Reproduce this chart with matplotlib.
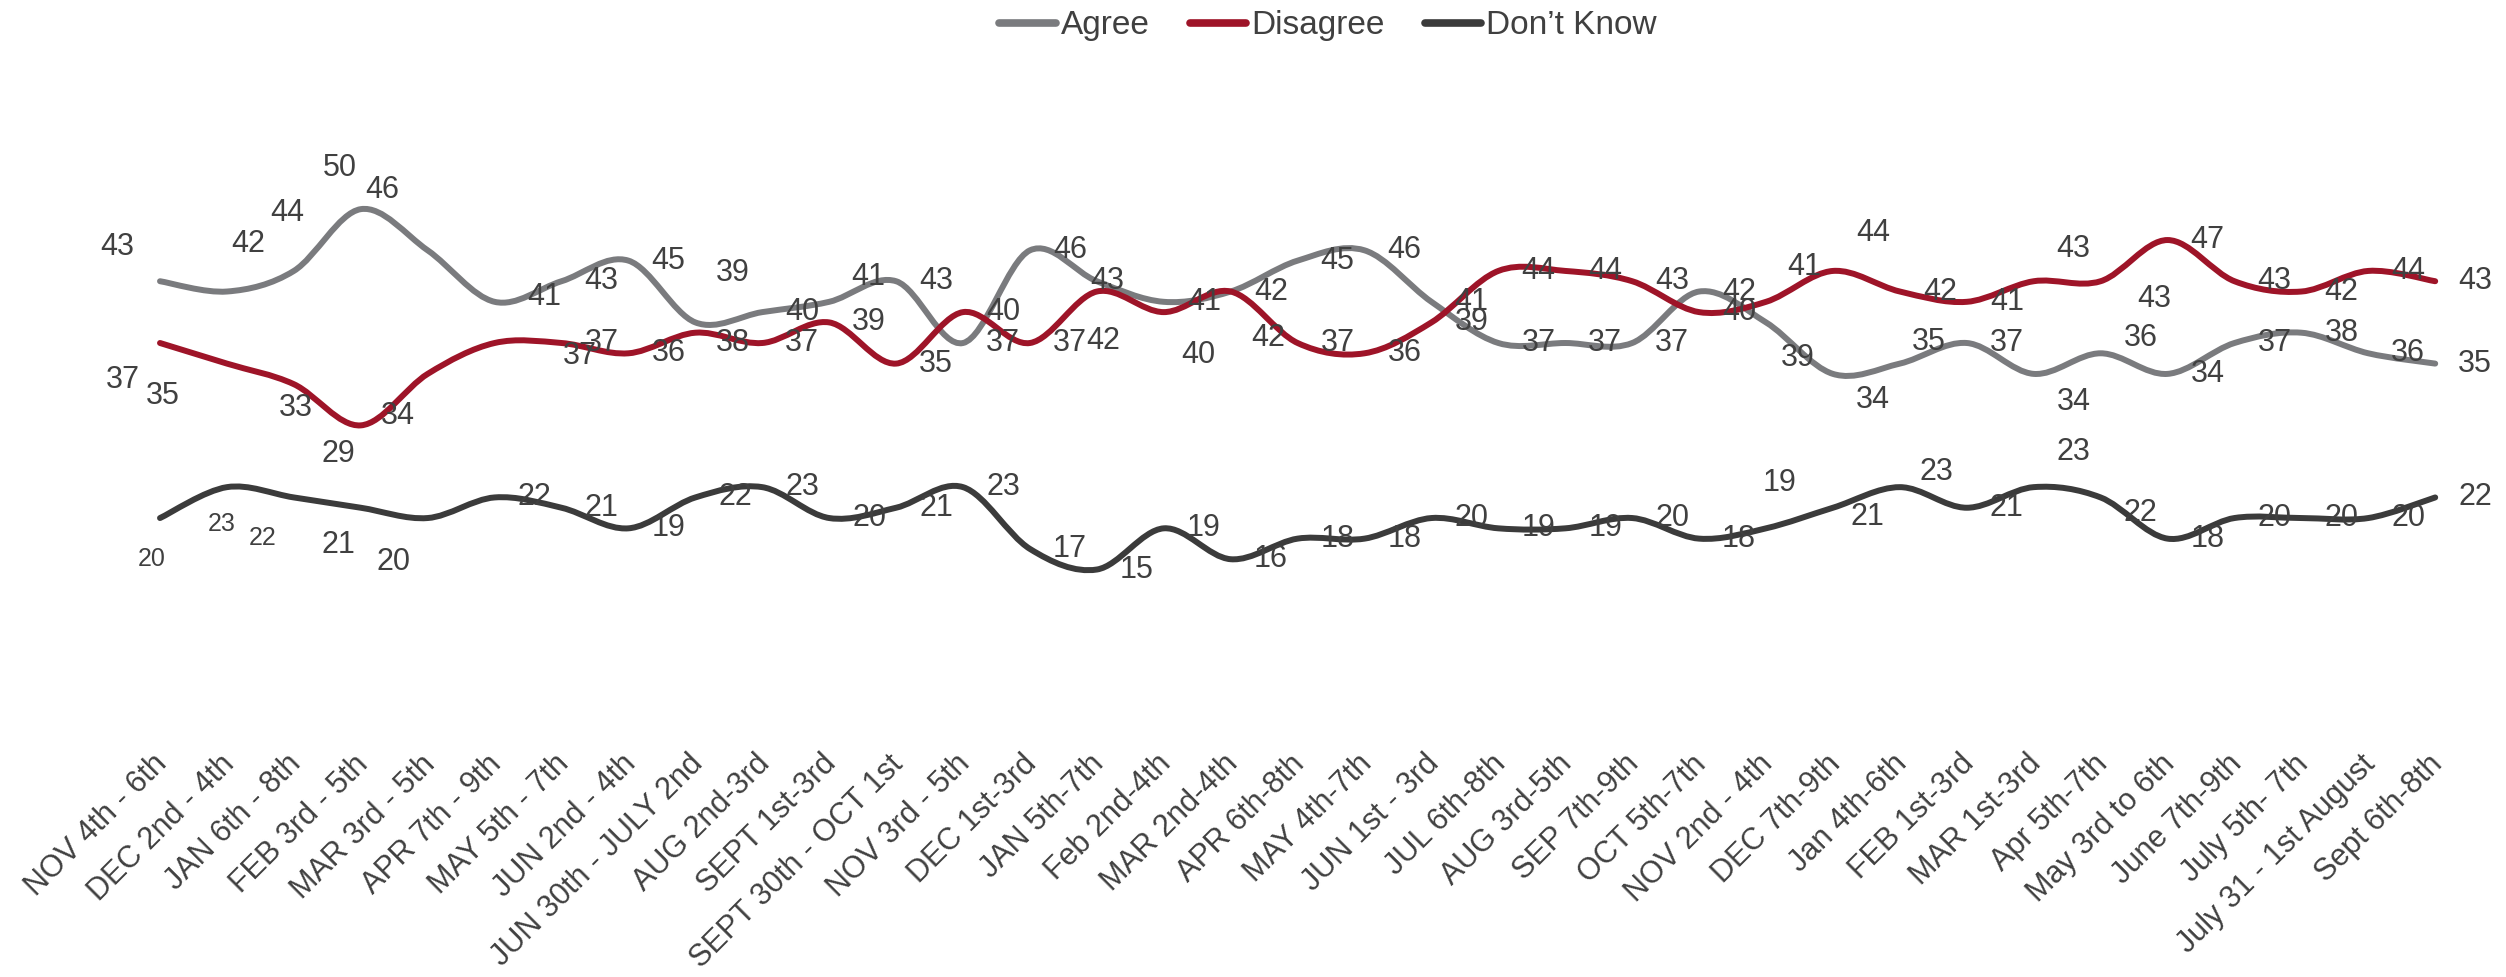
import numpy as np
import matplotlib.pyplot as plt
import matplotlib.transforms as mtransforms
from matplotlib.path import Path
from matplotlib.patches import PathPatch
from matplotlib.lines import Line2D

plt.rcParams["font.family"] = ["Liberation Sans", "DejaVu Sans"]

# survey waves
waves = ["NOV 4th - 6th", "DEC 2nd - 4th", "JAN 6th - 8th", "FEB 3rd - 5th",
         "MAR 3rd - 5th", "APR 7th - 9th", "MAY 5th - 7th", "JUN 2nd - 4th",
         "JUN 30th - JULY 2nd", "AUG 2nd-3rd", "SEPT 1st-3rd", "SEPT 30th - OCT 1st",
         "NOV 3rd - 5th", "DEC 1st-3rd", "JAN 5th-7th", "Feb 2nd-4th",
         "MAR 2nd-4th", "APR 6th-8th", "MAY 4th-7th", "JUN 1st - 3rd",
         "JUL 6th-8th", "AUG 3rd-5th", "SEP 7th-9th", "OCT 5th-7th",
         "NOV 2nd - 4th", "DEC 7th-9th", "Jan 4th-6th", "FEB 1st-3rd",
         "MAR 1st-3rd", "Apr 5th-7th", "May 3rd to 6th", "June 7th-9th",
         "July 5th- 7th", "July 31 - 1st August", "Sept 6th-8th"]

agree = [43, 42, 44, 50, 46, 41, 43, 45, 39, 40, 41, 43, 37, 46, 43, 41, 42, 45,
         46, 41, 37, 37, 37, 42, 39, 34, 35, 37, 34, 36, 34, 37, 38, 36, 35]
disagree = [37, 35, 33, 29, 34, 37, 37, 36, 38, 37, 39, 35, 40, 37, 42, 40, 42, 37,
            36, 39, 44, 44, 43, 40, 41, 44, 42, 41, 43, 43, 47, 43, 42, 44, 43]
dont_know = [20, 23, 22, 21, 20, 22, 21, 19, 22, 23, 20, 21, 23, 17, 15, 19, 16, 18,
             18, 20, 19, 19, 20, 18, 19, 21, 23, 21, 23, 22, 18, 20, 20, 20, 22]

# label offsets in pixels (dx, dy down), default is to the right of the point
default_off = (40, 0)
agree_off = {0: (-43, -34), 1: (21, -48), 2: (-7, -58), 3: (-21, -41), 4: (-45, -60),
             5: (50, -5), 8: (37, -49), 10: (39, -25), 14: (10, 0), 24: (32, 36),
             25: (40, 26), 26: (29, -22), 28: (40, 28), 29: (40, -15)}
disagree_off = {0: (-37, 37), 1: (-64, 32), 2: (2, 24), 3: (-22, 29), 4: (-30, 42),
                5: (85, 13), 8: (37, 10), 14: (6, 49), 15: (35, 43), 16: (37, 46),
                24: (38, -35), 25: (40, -38), 28: (40, -32), 29: (54, 18)}
dk_off = {0: (-8, 41), 1: (-5, 37), 2: (-31, 41), 3: (-22, 37), 4: (-34, 44),
          24: (14, -45), 25: (34, 9), 26: (37, -15), 28: (40, -35), 29: (40, 16)}
# first few don't know labels are set smaller in the original
small_dk = [0, 1, 2]

col_agree = "#7a7b7e"
col_disagree = "#9e1428"
col_dk = "#3b3b3b"
col_text = "#404040"


def smooth_path(xs, ys):
    # excel style smoothed line: cubic bezier segments through every point
    pts = np.column_stack([xs, ys]).astype(float)
    n = len(pts)
    verts = [pts[0]]
    codes = [Path.MOVETO]
    for i in range(n - 1):
        p0 = pts[max(i - 1, 0)]
        p1 = pts[i]
        p2 = pts[i + 1]
        p3 = pts[min(i + 2, n - 1)]
        verts += [p1 + (p2 - p0) / 6.0, p2 - (p3 - p1) / 6.0, p2]
        codes += [Path.CURVE4] * 3
    return Path(verts, codes)


fig = plt.figure(figsize=(25.06, 9.77), dpi=100)
ax = fig.add_axes([0.0505, 0.259, 0.9346, 0.685])

x = np.arange(len(waves))
series = [("Agree", agree, col_agree, agree_off),
          ("Disagree", disagree, col_disagree, disagree_off),
          ("Don\u2019t Know", dont_know, col_dk, dk_off)]

handles = []
for name, vals, col, offs in series:
    ax.add_patch(PathPatch(smooth_path(x, vals), fill=False, edgecolor=col,
                           lw=4.3, capstyle="round", joinstyle="round"))
    handles.append(Line2D([], [], color=col, lw=5.5, solid_capstyle="round", label=name))
    for i, v in enumerate(vals):
        dx, dy = offs.get(i, default_off)
        fs = 18 if (offs is dk_off and i in small_dk) else 22
        ax.annotate(str(v), (i, v), xytext=(dx * 0.72, -dy * 0.72),
                    textcoords="offset points", ha="center", va="center",
                    fontsize=fs, color=col_text)

ax.set_xlim(-0.5, len(waves) - 0.5)
ax.set_ylim(0, 65)
ax.set_yticks([])
ax.set_xticks(x)
ax.set_xticklabels(waves, rotation=45, ha="right", va="top", rotation_mode="anchor",
                   fontsize=22, color=col_text)
ax.tick_params(axis="x", length=0, pad=18)
shift = mtransforms.ScaledTranslation(-8 / 100, 0, fig.dpi_scale_trans)
for lab in ax.get_xticklabels():
    lab.set_transform(lab.get_transform() + shift)
for s in ax.spines.values():
    s.set_visible(False)

fig.legend(handles=handles, loc="upper center", bbox_to_anchor=(0.53, 1.02),
           ncol=3, frameon=False, fontsize=24, handlelength=1.7,
           handletextpad=0.15, columnspacing=1.2, labelcolor=col_text)

fig.savefig("out.png", dpi=100)
